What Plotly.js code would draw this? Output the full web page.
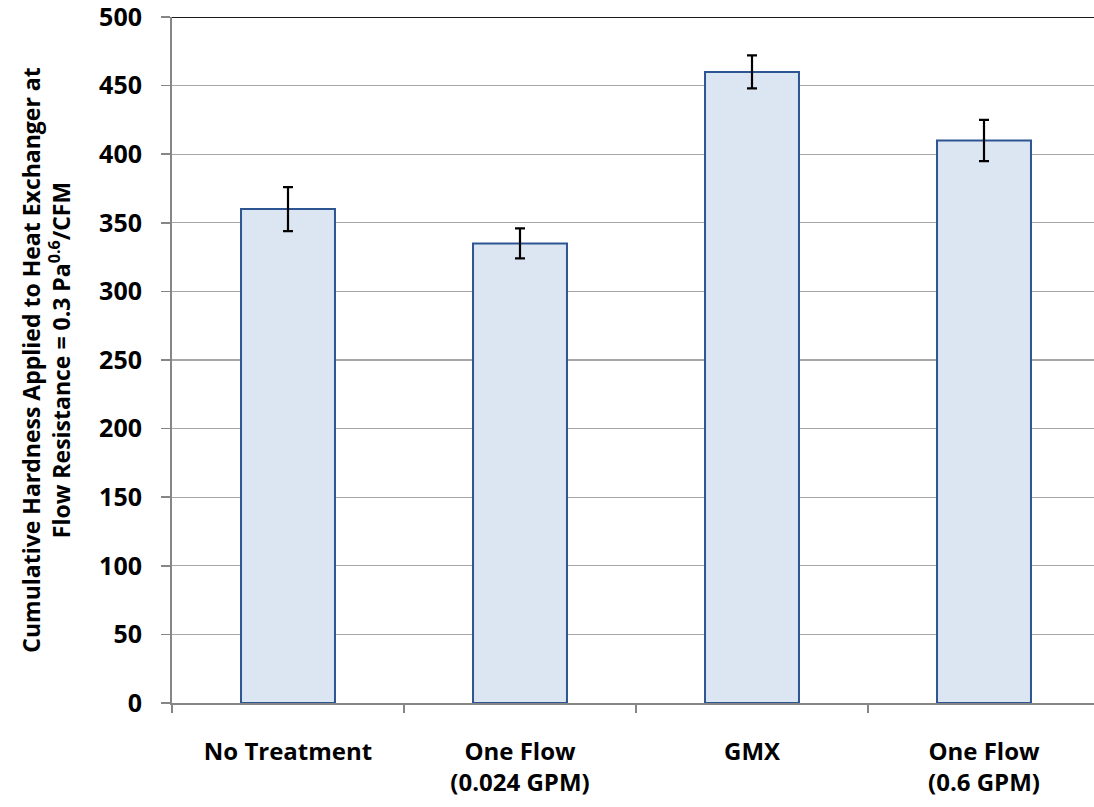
<!DOCTYPE html>
<html><head><meta charset="utf-8">
<script src="https://cdn.plot.ly/plotly-3.0.1.min.js"></script>
<style>html,body{margin:0;padding:0;overflow:hidden;background:#fff}</style>
</head><body><div id="chart"></div>
<script>
const categories = ["No Treatment", "One Flow<br>(0.024 GPM)", "GMX", "One Flow<br>(0.6 GPM)"];
const values = [360, 335, 460, 410];
const errors = [16, 11, 12, 15];
const yTicks = [0, 50, 100, 150, 200, 250, 300, 350, 400, 450, 500];

const FONT = "'Open Sans', 'Liberation Sans', Arial, sans-serif";

const trace = {
  type: 'bar', x: categories, y: values,
  width: 0.405,
  marker: {color: '#dce6f2', line: {color: '#2c5592', width: 2}},
  error_y: {type: 'data', array: errors, visible: true, color: '#000', thickness: 2.2, width: 5}
};

const layout = {
  width: 1100, height: 807,
  margin: {l: 172, r: 0, t: 17, b: 104},
  paper_bgcolor: '#fff', plot_bgcolor: '#fff',
  showlegend: false,
  font: {family: FONT, color: '#000', size: 24},
  xaxis: {
    type: 'category', showgrid: false, zeroline: false,
    showline: true, linecolor: '#868686', linewidth: 2,
    ticks: 'outside', tickson: 'boundaries', ticklen: 8, tickcolor: '#868686', tickwidth: 1.5,
    tickfont: {family: FONT, size: 24, color: '#000', weight: 'bold'},
    ticklabelstandoff: 26
  },
  yaxis: {
    range: [0, 500], tickvals: yTicks, ticktext: yTicks.map(String),
    showgrid: true, gridcolor: '#a6a6a6', gridwidth: 1.3,
    zeroline: false, showline: true, linecolor: '#868686', linewidth: 2,
    ticks: 'outside', ticklen: 9, tickcolor: '#868686', tickwidth: 1.5,
    tickfont: {family: FONT, size: 25, color: '#000', weight: 'bold'},
    ticklabelstandoff: 14, ticklabeloverflow: 'allow',
    title: {text: 'Cumulative Hardness Applied to Heat Exchanger at<br>Flow Resistance = 0.3 Pa<sup>0.6</sup>/CFM',
            font: {family: FONT, size: 23, color: '#000', weight: 'bold'}, standoff: 22}
  },
  shapes: [{type: 'line', xref: 'paper', x0: 0, x1: 1, yref: 'y', y0: 500, y1: 500,
            line: {color: '#1a1a1a', width: 2}}]
};

Plotly.newPlot('chart', [trace], layout, {displayModeBar: false, staticPlot: true});
</script></body></html>
